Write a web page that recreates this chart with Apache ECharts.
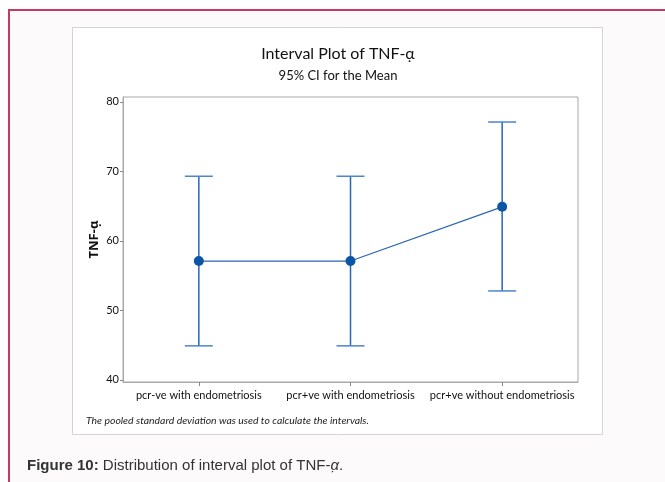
<!DOCTYPE html>
<html>
<head>
<meta charset="utf-8">
<script src="https://cdn.jsdelivr.net/npm/echarts@6/dist/echarts.min.js"></script>
<style>
html,body{margin:0;padding:0;background:#fff;}
#chart{width:665px;height:482px;}
</style>
</head>
<body>
<div id="chart"></div>
<script>
var categories = ['pcr-ve with endometriosis', 'pcr+ve with endometriosis', 'pcr+ve without endometriosis'];
var means = [57.1, 57.1, 64.9];
var lowerCI = [44.9, 44.9, 52.8];
var upperCI = [69.3, 69.3, 77.1];
var yTicks = [40, 50, 60, 70, 80];

var chartFont = 'Lato';
var chart = echarts.init(document.getElementById('chart'), null, {renderer: 'canvas'});

var barData = categories.map(function (c, i) { return [i, lowerCI[i], upperCI[i]]; });

var option = {
  animation: false,
  backgroundColor: '#ffffff',
  textStyle: {fontFamily: chartFont},
  graphic: [
    {type: 'rect', z: -10, shape: {x: 9, y: 10, width: 700, height: 520},
      style: {fill: '#fcfafa', stroke: '#c43a60', lineWidth: 2}},
    {type: 'rect', z: -9, shape: {x: 72.5, y: 27.5, width: 530, height: 407},
      style: {fill: '#ffffff', stroke: '#d4d4d4', lineWidth: 1}},
    {type: 'text', z: 5, x: 338, y: 54,
      style: {text: 'Interval Plot of TNF-\u03b1\u0323', font: '16px Lato', fill: '#111', textAlign: 'center', textVerticalAlign: 'middle'}},
    {type: 'text', z: 5, x: 338, y: 76,
      style: {text: '95% CI for the Mean', font: '13px Lato', fill: '#111', textAlign: 'center', textVerticalAlign: 'middle'}},
    {type: 'text', z: 5, x: 86, y: 421,
      style: {text: 'The pooled standard deviation was used to calculate the intervals.', font: 'italic 10.4px Lato', fill: '#222', textAlign: 'left', textVerticalAlign: 'middle'}},
    {type: 'text', z: 5, x: 27, y: 466,
      style: {
        text: '{b|Figure 10:} Distribution of interval plot of TNF-{i|\u03b1\u0323}.',
        font: '15px "Liberation Sans"', fill: '#333', textAlign: 'left', textVerticalAlign: 'middle',
        rich: {
          b: {fontWeight: 'bold', fontFamily: 'Liberation Sans', fontSize: 15, fill: '#333'},
          i: {fontStyle: 'italic', fontFamily: 'Liberation Sans', fontSize: 15, fill: '#333'}
        }
      }}
  ],
  grid: {left: 123, top: 97, width: 455, height: 285, show: true, borderColor: '#a8a8a8', borderWidth: 1, backgroundColor: 'transparent'},
  xAxis: {
    type: 'category',
    data: categories,
    boundaryGap: true,
    axisLine: {show: true, lineStyle: {color: '#a8a8a8', width: 1}},
    axisTick: {show: true, alignWithLabel: true, length: 4, lineStyle: {color: '#888'}},
    axisLabel: {color: '#111', fontSize: 11, fontFamily: chartFont, margin: 8, interval: 0},
    splitLine: {show: false}
  },
  yAxis: {
    type: 'value',
    min: 39.7,
    max: 80.7,
    name: 'TNF-\u03b1\u0323',
    nameLocation: 'middle',
    nameRotate: 90,
    nameGap: 22,
    nameMoveOverlap: false,
    nameTextStyle: {color: '#111', fontSize: 13, fontWeight: 'bold', fontFamily: 'Noto Sans'},
    axisLine: {show: true, lineStyle: {color: '#a8a8a8', width: 1}},
    axisTick: {show: true, length: 3, customValues: yTicks, lineStyle: {color: '#888'}},
    axisLabel: {color: '#111', fontSize: 11, fontFamily: chartFont, margin: 4, customValues: yTicks},
    splitLine: {show: false}
  },
  series: [
    {
      type: 'custom',
      z: 3,
      data: barData,
      encode: {x: 0, y: [1, 2]},
      renderItem: function (params, api) {
        var x = api.value(0);
        var top = api.coord([x, api.value(2)]);
        var bot = api.coord([x, api.value(1)]);
        var hw = 14;
        var st = {stroke: '#2766b6', lineWidth: 1.5};
        var cap = {stroke: '#4a86cc', lineWidth: 1.5};
        return {
          type: 'group',
          children: [
            {type: 'line', shape: {x1: top[0], y1: top[1], x2: bot[0], y2: bot[1]}, style: st},
            {type: 'line', shape: {x1: top[0] - hw, y1: top[1], x2: top[0] + hw, y2: top[1]}, style: cap},
            {type: 'line', shape: {x1: bot[0] - hw, y1: bot[1], x2: bot[0] + hw, y2: bot[1]}, style: cap}
          ]
        };
      }
    },
    {
      type: 'line',
      z: 4,
      data: means,
      symbol: 'circle',
      symbolSize: 10,
      lineStyle: {color: '#2a66b2', width: 1.2},
      itemStyle: {color: '#0b55a6'}
    }
  ]
};
chart.setOption(option);
</script>
</body>
</html>
